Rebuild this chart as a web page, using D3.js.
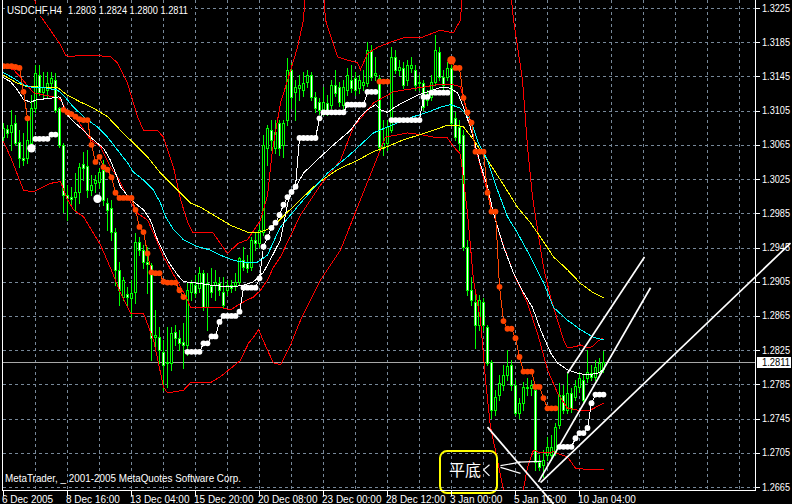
<!DOCTYPE html>
<html><head><meta charset="utf-8">
<script src="https://cdn.jsdelivr.net/npm/d3@7"></script>
<style>
html,body{margin:0;padding:0;background:#000;}
svg{display:block;}
</style></head><body>
<svg id="chart" width="792" height="504"></svg>
<script>
// ---------------- DATA ----------------
const symbol = "USDCHF,H4";
const open = [
1.3074,1.3084,1.3080,1.3091,1.3068,1.3050,1.3050,1.3067,1.3108,1.3147,
1.3127,1.3129,1.3137,1.3141,1.3108,1.3065,1.3006,1.3004,1.3004,1.3010,
1.3043,1.3040,1.3012,1.3020,1.3022,1.3036,1.2997,1.2991,1.2963,1.2919,
1.2887,1.2891,1.2886,1.2893,1.2951,1.2942,1.2928,1.2925,1.2840,1.2840,
1.2823,1.2810,1.2810,1.2846,1.2839,1.2835,1.2831,1.2893,1.2901,1.2898,
1.2915,1.2875,1.2900,1.2901,1.2904,1.2893,1.2895,1.2901,1.2901,1.2905,
1.2930,1.2927,1.2922,1.2954,1.2950,1.2963,1.3061,1.3082,1.3061,1.3091,
1.3065,1.3094,1.3153,1.3127,1.3132,1.3129,1.3139,1.3147,1.3121,1.3115,
1.3106,1.3114,1.3112,1.3135,1.3133,1.3112,1.3129,1.3141,1.3143,1.3132,
1.3135,1.3137,1.3176,1.3147,1.3143,1.3061,1.3067,1.3082,1.3168,1.3153,
1.3155,1.3141,1.3155,1.3153,1.3137,1.3137,1.3118,1.3121,1.3139,1.3174,
1.3144,1.3144,1.3155,1.3096,1.3086,1.3077,1.2946,1.2895,1.2881,1.2854,
1.2881,1.2852,1.2811,1.2755,1.2773,1.2784,1.2796,1.2808,1.2784,1.2752,
1.2763,1.2782,1.2781,1.2778,1.2694,1.2691,1.2702,1.2702,1.2706,1.2738,
1.2773,1.2755,1.2775,1.2770,1.2782,1.2790,1.2792,1.2798,1.2794,1.2800,
1.2803];
const high = [
1.3091,1.3088,1.3106,1.3100,1.3082,1.3079,1.3094,1.3123,1.3158,1.3158,
1.3150,1.3150,1.3150,1.3149,1.3109,1.3067,1.3018,1.3016,1.3032,1.3044,
1.3057,1.3059,1.3030,1.3030,1.3038,1.3047,1.3003,1.3001,1.2968,1.2928,
1.2911,1.2899,1.2907,1.2962,1.2957,1.2948,1.2946,1.2927,1.2872,1.2852,
1.2837,1.2852,1.2852,1.2854,1.2849,1.2857,1.2904,1.2907,1.2913,1.2922,
1.2919,1.2915,1.2921,1.2919,1.2911,1.2911,1.2907,1.2907,1.2915,1.2934,
1.2946,1.2936,1.2957,1.2963,1.2971,1.3077,1.3088,1.3094,1.3094,1.3094,
1.3094,1.3167,1.3161,1.3141,1.3147,1.3150,1.3153,1.3150,1.3127,1.3120,
1.3133,1.3123,1.3141,1.3153,1.3139,1.3141,1.3155,1.3158,1.3150,1.3147,
1.3153,1.3185,1.3182,1.3168,1.3147,1.3094,1.3094,1.3179,1.3176,1.3164,
1.3162,1.3164,1.3168,1.3158,1.3147,1.3141,1.3129,1.3147,1.3194,1.3179,
1.3153,1.3162,1.3158,1.3103,1.3094,1.3082,1.2954,1.2911,1.2895,1.2890,
1.2886,1.2854,1.2813,1.2778,1.2796,1.2808,1.2825,1.2813,1.2790,1.2769,
1.2788,1.2792,1.2790,1.2784,1.2702,1.2708,1.2724,1.2726,1.2740,1.2787,
1.2784,1.2798,1.2781,1.2790,1.2800,1.2796,1.2825,1.2808,1.2813,1.2816,
1.2824];
const low = [
1.3068,1.3074,1.3059,1.3065,1.3039,1.3042,1.3044,1.3059,1.3103,1.3123,
1.3121,1.3121,1.3132,1.3103,1.3063,1.2987,1.2977,1.2995,1.2989,1.2997,
1.3024,1.3004,1.3006,1.3010,1.3015,1.2995,1.2966,1.2954,1.2901,1.2878,
1.2884,1.2878,1.2864,1.2880,1.2936,1.2921,1.2892,1.2813,1.2829,1.2810,
1.2778,1.2782,1.2802,1.2831,1.2825,1.2804,1.2819,1.2884,1.2887,1.2893,
1.2872,1.2849,1.2887,1.2884,1.2890,1.2875,1.2890,1.2893,1.2895,1.2901,
1.2919,1.2916,1.2919,1.2942,1.2946,1.2960,1.3042,1.3059,1.3056,1.3053,
1.3051,1.3088,1.3108,1.3094,1.3118,1.3122,1.3133,1.3118,1.3103,1.3101,
1.3100,1.3100,1.3108,1.3122,1.3110,1.3107,1.3123,1.3127,1.3123,1.3126,
1.3129,1.3134,1.3141,1.3141,1.3059,1.3053,1.3059,1.3080,1.3149,1.3147,
1.3132,1.3135,1.3150,1.3129,1.3129,1.3106,1.3112,1.3118,1.3135,1.3141,
1.3129,1.3141,1.3088,1.3071,1.3059,1.2942,1.2890,1.2878,1.2828,1.2849,
1.2849,1.2808,1.2746,1.2749,1.2767,1.2778,1.2790,1.2778,1.2749,1.2746,
1.2755,1.2773,1.2773,1.2685,1.2685,1.2677,1.2697,1.2697,1.2702,1.2734,
1.2752,1.2752,1.2753,1.2767,1.2776,1.2764,1.2788,1.2790,1.2790,1.2796,
1.2800];
const close = [
1.3085,1.3079,1.3088,1.3067,1.3050,1.3047,1.3071,1.3108,1.3149,1.3127,
1.3133,1.3137,1.3143,1.3106,1.3065,1.3006,1.3003,1.3002,1.3010,1.3039,
1.3038,1.3012,1.3018,1.3024,1.3033,1.3001,1.2989,1.2963,1.2919,1.2895,
1.2907,1.2887,1.2892,1.2951,1.2942,1.2928,1.2926,1.2839,1.2843,1.2825,
1.2808,1.2811,1.2845,1.2839,1.2833,1.2831,1.2895,1.2904,1.2892,1.2915,
1.2875,1.2904,1.2893,1.2905,1.2895,1.2878,1.2901,1.2898,1.2905,1.2933,
1.2922,1.2921,1.2954,1.2950,1.2966,1.3065,1.3085,1.3071,1.3080,1.3061,
1.3091,1.3153,1.3121,1.3133,1.3135,1.3137,1.3147,1.3121,1.3108,1.3106,
1.3115,1.3103,1.3135,1.3126,1.3115,1.3133,1.3147,1.3132,1.3129,1.3141,
1.3139,1.3176,1.3144,1.3149,1.3063,1.3067,1.3086,1.3168,1.3153,1.3156,
1.3135,1.3158,1.3158,1.3135,1.3139,1.3109,1.3123,1.3139,1.3176,1.3144,
1.3135,1.3155,1.3091,1.3074,1.3067,1.2946,1.2895,1.2884,1.2854,1.2884,
1.2854,1.2810,1.2755,1.2770,1.2787,1.2796,1.2806,1.2784,1.2752,1.2763,
1.2782,1.2781,1.2784,1.2694,1.2688,1.2697,1.2712,1.2712,1.2735,1.2773,
1.2755,1.2775,1.2757,1.2783,1.2792,1.2767,1.2800,1.2794,1.2805,1.2810,
1.2811];

const priceTicks = ["1.3225","1.3185","1.3145","1.3105","1.3065","1.3025","1.2985","1.2945",
                    "1.2905","1.2865","1.2825","1.2785","1.2745","1.2705","1.2665"];
const dateTickBars = [0,16,32,48,64,80,96,112,128,144];
const dateTickLabels = ["6 Dec 2005","8 Dec 16:00","13 Dec 04:00","15 Dec 20:00","20 Dec 08:00",
                        "23 Dec 00:00","28 Dec 12:00","3 Jan 00:00","5 Jan 16:00","10 Jan 04:00"];

// moving averages: [bar, price]
const maWhite = [[-0.25,1.3144],[1.75,1.3139],[3.5,1.3129],[5,1.3118],[6.75,1.3115],[8.5,1.3118],[11,1.3119],[13.75,1.3121],[14.25,1.3120],[15.5,1.3103],[16.75,1.3096],[18.5,1.3088],[20,1.3082],[21.75,1.3074],[23.5,1.3067],[25,1.3061],[26.75,1.3047],[28,1.3032],[29.25,1.3016],[31.75,1.3001],[35,1.2989],[36.75,1.2977],[38.5,1.2954],[41,1.2930],[43.5,1.2913],[45,1.2905],[47.5,1.2904],[51.75,1.2901],[56,1.2899],[57.5,1.2899],[60,1.2901],[62.5,1.2905],[65,1.2916],[67.5,1.2938],[69.25,1.2954],[71.25,1.3001],[75,1.3032],[79.25,1.3051],[82.5,1.3065],[86.75,1.3082],[89.25,1.3098],[91,1.3106],[93,1.3112],[94.25,1.3106],[96,1.3103],[97.5,1.3108],[100,1.3115],[103.5,1.3123],[106,1.3127],[109.25,1.3132],[111.25,1.3132],[113.5,1.3126],[115,1.3109],[116.75,1.3085],[119.25,1.3042],[121,1.3016],[122.5,1.2985],[125,1.2946],[127.5,1.2915],[130,1.2892],[132.25,1.2875],[134.25,1.2849],[136.75,1.2822],[138.5,1.2810],[141,1.2802],[143.5,1.2798],[146.25,1.2796],[148.5,1.2798],[150,1.2802]];
const maCyan = [[-0.25,1.3150],[2.5,1.3143],[5,1.3135],[7.5,1.3132],[10,1.3132],[13.5,1.3129],[15,1.3123],[17.5,1.3109],[21,1.3094],[23.5,1.3086],[26,1.3074],[28.5,1.3059],[31,1.3044],[32.5,1.3033],[35,1.3024],[37.5,1.3012],[39.25,1.2997],[40.5,1.2981],[42.5,1.2966],[45,1.2954],[48.5,1.2946],[51.75,1.2942],[54.25,1.2936],[57.5,1.2930],[61,1.2927],[63.5,1.2928],[66,1.2936],[68.5,1.2962],[69.25,1.2969],[75,1.3001],[81,1.3032],[86,1.3051],[89.25,1.3065],[92.5,1.3079],[96,1.3086],[99.25,1.3092],[102.5,1.3098],[106,1.3103],[109.25,1.3109],[111.75,1.3112],[114.25,1.3108],[116.75,1.3094],[118.75,1.3067],[121,1.3047],[123.5,1.3012],[126,1.2981],[128.5,1.2962],[131.75,1.2934],[135,1.2904],[137.5,1.2875],[141,1.2860],[144.25,1.2849],[147.5,1.2840],[150,1.2837]];
const maYellow = [[-0.25,1.3147],[3.5,1.3137],[6,1.3133],[13.5,1.3132],[16,1.3123],[19.25,1.3115],[22.5,1.3108],[26,1.3098],[29.25,1.3082],[32.5,1.3067],[36,1.3051],[39.25,1.3032],[43.5,1.3012],[46.75,1.2997],[49.25,1.2992],[52.5,1.2983],[56.75,1.2971],[61,1.2963],[63.5,1.2962],[66,1.2966],[68.5,1.2975],[74.25,1.3001],[78.5,1.3020],[83.5,1.3036],[88.5,1.3047],[92.5,1.3057],[96,1.3063],[100,1.3071],[104.25,1.3077],[107.5,1.3082],[111,1.3088],[113.5,1.3088],[115,1.3086],[117.5,1.3071],[121,1.3047],[124.25,1.3024],[128.5,1.2992],[131.75,1.2974],[134.25,1.2957],[137.5,1.2934],[141,1.2919],[144.25,1.2903],[147.5,1.2892],[150,1.2886]];

// Bollinger bands: [bar, price]
const bbUpper = [[5.5,1.3270],[8.75,1.3219],[11.75,1.3199],[14.25,1.3182],[15.5,1.3170],[16.75,1.3168],[19.25,1.3170],[24.25,1.3169],[26.75,1.3168],[28.5,1.3161],[31,1.3137],[33.5,1.3098],[35,1.3082],[38.5,1.3082],[40,1.3074],[42.5,1.3039],[44.25,1.3001],[46,1.2975],[47.25,1.2963],[52.25,1.2963],[56,1.2938],[58.75,1.2950],[61,1.2954],[64.25,1.2977],[66,1.3006],[67.25,1.3059],[69.25,1.3114],[71.25,1.3144],[73.5,1.3179],[75,1.3211],[76,1.3281],[79.5,1.3281],[80.5,1.3211],[83.5,1.3168],[86,1.3164],[88.5,1.3161],[89.25,1.3153],[91,1.3172],[93.5,1.3179],[96.75,1.3185],[100,1.3190],[104.25,1.3190],[107.5,1.3196],[109.25,1.3199],[112.5,1.3196],[114.25,1.3211],[115.25,1.3281],[126,1.3281],[127.5,1.3211],[129.75,1.3141],[131,1.3063],[132.25,1.3004],[133.5,1.2966],[135,1.2922],[136.75,1.2887],[138.5,1.2860],[140,1.2837],[141,1.2828],[143,1.2829],[144.25,1.2831],[146,1.2828],[147.25,1.2829],[148.5,1.2835],[149.75,1.2839]];
const bbMiddle = [[-0.25,1.3156],[2.5,1.3153],[4.25,1.3144],[7.5,1.3126],[13.5,1.3120],[14.25,1.3118],[16,1.3103],[18.5,1.3094],[21.75,1.3071],[24.25,1.3063],[26.75,1.3039],[28.5,1.3027],[31,1.3004],[33.5,1.2985],[36,1.2977],[37.5,1.2962],[40,1.2934],[44.25,1.2899],[46,1.2884],[46.75,1.2875],[51.75,1.2875],[54.25,1.2875],[56.75,1.2872],[58.75,1.2878],[61,1.2884],[62.5,1.2887],[64.25,1.2895],[66,1.2907],[67.5,1.2922],[69.25,1.2934],[74.25,1.2983],[79.25,1.3018],[84.25,1.3047],[87.5,1.3086],[92.5,1.3114],[97.5,1.3127],[100,1.3129],[104.25,1.3132],[109.25,1.3136],[111.75,1.3136],[114.25,1.3133],[116.75,1.3086],[119.25,1.3039],[121.75,1.2997],[124.25,1.2957],[127.5,1.2915],[131,1.2880],[133.5,1.2845],[136,1.2802],[138.5,1.2775],[141,1.2757],[143.5,1.2755],[146.75,1.2755],[149.25,1.2761],[150,1.2763]];
const bbLower = [[-0.25,1.3071],[1.75,1.3051],[5,1.3012],[7.5,1.3010],[11.75,1.3020],[14.25,1.3022],[16,1.3001],[17.5,1.2989],[20,1.2981],[24.25,1.2948],[26.75,1.2921],[29.25,1.2892],[31.75,1.2868],[35,1.2868],[37.5,1.2837],[40,1.2782],[41,1.2775],[45,1.2778],[46.75,1.2787],[51.75,1.2787],[54.25,1.2794],[59.25,1.2813],[61.25,1.2833],[62.5,1.2840],[63.75,1.2849],[66,1.2825],[67.5,1.2810],[69.25,1.2808],[71.75,1.2831],[74.25,1.2860],[79.25,1.2907],[84.25,1.2942],[89.25,1.3001],[95.5,1.3074],[101,1.3079],[104.25,1.3077],[107.5,1.3074],[111,1.3073],[112.5,1.3063],[114.25,1.3054],[116,1.2985],[117.5,1.2907],[119.25,1.2860],[120.5,1.2790],[121.75,1.2735],[123.25,1.2702],[125,1.2661],[126.25,1.2626],[129.25,1.2644],[131,1.2688],[132.5,1.2708],[134.25,1.2705],[137.5,1.2706],[141,1.2700],[143,1.2687],[146.75,1.2685],[150,1.2685]];

// trailing stop dots: segment start bars + values
const stopDownStart = [0, 15, 94, 112];
const stopDownValues = [
 [1.3157,1.3157,1.3157,1.3156,1.3155,1.3127,1.3096],
 [1.3106,1.3103,1.3101,1.3098,1.3095,1.3094,1.3094,1.3065,1.3045,1.3051,1.3039,1.3036,1.3027,1.3009,1.3003,1.3003,1.3003,1.3003,1.2989,1.2969,1.2963,1.2938,1.2916,1.2915,1.2915,1.2905,1.2904,1.2904,1.2904,1.2895,1.2887],
 [1.3139,1.3139,1.3139],
 [1.3164,1.3155,1.3155,1.3120,1.3103,1.3091,1.3057,1.3057,1.3057,1.3009,1.2987,1.2987,1.2899,1.2859,1.2850,1.2850,1.2839,1.2817,1.2800,1.2800,1.2800,1.2782,1.2782,1.2769,1.2757,1.2757,1.2757]
];
const stopUpStart = [8, 46, 97, 139];
const stopUpValues = [
 [1.3072,1.3072,1.3072,1.3072,1.3077,1.3077],
 [1.2823,1.2823,1.2823,1.2823,1.2833,1.2833,1.2841,1.2841,1.2858,1.2865,1.2865,1.2865,1.2865,1.2870,1.2898,1.2898,1.2898,1.2898,1.2909,1.2946,1.2957,1.2968,1.2974,1.2983,1.2995,1.3004,1.3010,1.3016,1.3073,1.3073,1.3073,1.3073,1.3073,1.3096,1.3103,1.3103,1.3103,1.3103,1.3103,1.3103,1.3112,1.3112,1.3112,1.3112,1.3112,1.3127,1.3127,1.3127],
 [1.3094,1.3094,1.3094,1.3094,1.3094,1.3094,1.3094,1.3094,1.3121,1.3121,1.3126,1.3126,1.3126,1.3126,1.3126],
 [1.2712,1.2712,1.2712,1.2712,1.2722,1.2728,1.2728,1.2734,1.2763,1.2773,1.2773,1.2773]
];
const signalBars = [7, 23.5, 112];
const signalPrices = [1.3061, 1.3002, 1.3164];
const signalKinds = ["up", "up", "down"];

// hand-drawn trend lines: [[bar, price],[bar, price]]
const trendLines = [
 [[121,1.2735],[137.5,1.2645]],
 [[141,1.2798],[160.25,1.2934]],
 [[133.75,1.2671],[161.75,1.2898]],
 [[134.25,1.2670],[196.75,1.2950]]
];
const noteText = "平底";
const noteBoxBars = [109.25, 123.5];
const noteBoxPrices = [1.2707, 1.2658];
const noteTextAt = [111.5, 1.2678];
const arrowLines = [
 [[120,1.2685],[121.5,1.2691]],
 [[120,1.2685],[121.5,1.2678]],
 [[124.25,1.2690],[129.25,1.2694]],
 [[124.25,1.2688],[129.25,1.2681]],
 [[128.5,1.2694],[134.5,1.2695]]
];
const copyright = "MetaTrader, _ 2001-2005 MetaQuotes Software Corp.";

// ---------------- DRAW ----------------
const W = 792, H = 504;
const FONT = "'Liberation Sans', Arial, sans-serif";
const svg = d3.select("#chart");
svg.append("rect").attr("width", W).attr("height", H).attr("fill", "#000");

const x = d3.scaleLinear().domain([0, 188.25]).range([3, 756]);
const y = d3.scaleLinear().domain([1.2665, 1.3225]).range([487, 8]);
const line = d3.line().x(d => x(d[0]) + 0.5).y(d => y(d[1]));

svg.append("defs").append("clipPath").attr("id", "clip")
  .append("rect").attr("x", 3).attr("y", 0).attr("width", 752).attr("height", 490);

// grid
const grid = svg.append("g").attr("stroke", "#778899").attr("stroke-width", 1)
  .attr("stroke-dasharray", "3,3").attr("shape-rendering", "crispEdges");
grid.selectAll("line.h").data(priceTicks).join("line")
  .attr("x1", 3).attr("x2", 755)
  .attr("y1", d => Math.round(y(+d)) + 0.5).attr("y2", d => Math.round(y(+d)) + 0.5);
grid.selectAll("line.v").data(d3.range(8, 189, 8)).join("line")
  .attr("x1", d => Math.round(x(d)) + 0.5).attr("x2", d => Math.round(x(d)) + 0.5)
  .attr("y1", 0).attr("y2", 490);

// bid line
const lastClose = close[close.length - 1];
svg.append("line").attr("x1", 3).attr("x2", 755)
  .attr("y1", Math.round(y(lastClose)) + 0.5).attr("y2", Math.round(y(lastClose)) + 0.5)
  .attr("stroke", "#a8a8a8").attr("shape-rendering", "crispEdges");

const plot = svg.append("g").attr("clip-path", "url(#clip)");

// candles
const idx = d3.range(close.length);
const top_ = i => Math.round(y(Math.max(open[i], close[i])));
const bot_ = i => Math.round(y(Math.min(open[i], close[i])));
const cg = plot.append("g").attr("shape-rendering", "crispEdges");
cg.selectAll("rect.w").data(idx).join("rect")
  .attr("x", i => Math.round(x(i))).attr("width", 1)
  .attr("y", i => Math.round(y(high[i])))
  .attr("height", i => Math.max(1, Math.round(y(low[i])) - Math.round(y(high[i])) + 1))
  .attr("fill", "#00ff00");
cg.selectAll("rect.b").data(idx).join("rect")
  .attr("x", i => Math.round(x(i)) - 1).attr("width", 3)
  .attr("y", top_).attr("height", i => Math.max(1, bot_(i) - top_(i) + 1))
  .attr("fill", "#00ff00");
cg.selectAll("rect.f").data(idx.filter(i => bot_(i) - top_(i) >= 2)).join("rect")
  .attr("x", i => Math.round(x(i))).attr("width", 1)
  .attr("y", i => top_(i) + 1).attr("height", i => bot_(i) - top_(i) - 1)
  .attr("fill", i => close[i] < open[i] ? "#ffffff" : "#000000");

const crisp = "crispEdges";
// bollinger
[bbUpper, bbMiddle, bbLower].forEach(s => {
  plot.append("path").datum(s).attr("d", line).attr("fill", "none")
    .attr("stroke", "#ff0000").attr("stroke-width", 1).attr("shape-rendering", crisp);
});
// moving averages
[[maYellow, "#ffff00"], [maCyan, "#00ffff"], [maWhite, "#ffffff"]].forEach(([s, c]) => {
  plot.append("path").datum(s).attr("d", line).attr("fill", "none")
    .attr("stroke", c).attr("stroke-width", 1).attr("shape-rendering", crisp);
});

// trailing stop
function drawStops(starts, values, color) {
  starts.forEach((s, k) => {
    const pts = values[k].map((v, j) => [s + j, v]);
    plot.append("path").datum(pts).attr("d", line).attr("fill", "none")
      .attr("stroke", color).attr("stroke-width", 1).attr("shape-rendering", crisp);
    plot.append("g").selectAll("circle").data(pts).join("circle")
      .attr("cx", d => x(d[0]) + 0.5).attr("cy", d => y(d[1]))
      .attr("r", 2.9).attr("fill", color);
  });
}
drawStops(stopDownStart, stopDownValues, "#ff4500");
drawStops(stopUpStart, stopUpValues, "#ffffff");
plot.append("g").selectAll("circle").data(signalBars).join("circle")
  .attr("cx", (d) => x(d) + 0.5).attr("cy", (d, k) => y(signalPrices[k]))
  .attr("r", 4.2).attr("fill", (d, k) => signalKinds[k] === "up" ? "#ffffff" : "#ff4500");

// trend lines (not clipped)
svg.append("g").selectAll("path").data(trendLines).join("path")
  .attr("d", line).attr("stroke", "#ffffff").attr("stroke-width", 1.7).attr("fill", "none");

// annotation
svg.append("rect")
  .attr("x", x(noteBoxBars[0])).attr("y", y(noteBoxPrices[0]))
  .attr("width", x(noteBoxBars[1]) - x(noteBoxBars[0]))
  .attr("height", y(noteBoxPrices[1]) - y(noteBoxPrices[0]))
  .attr("rx", 7).attr("fill", "none").attr("stroke", "#ffff00").attr("stroke-width", 2);
svg.append("text").attr("x", x(noteTextAt[0])).attr("y", y(noteTextAt[1]))
  .attr("fill", "#ffffff").attr("font-family", "'Noto Sans CJK SC', sans-serif")
  .attr("font-size", 16).text(noteText);
svg.append("g").selectAll("path").data(arrowLines).join("path")
  .attr("d", line).attr("stroke", "#ffffff").attr("stroke-width", 1.2).attr("fill", "none");

// frame
const fr = svg.append("g").attr("stroke", "#ffffff").attr("shape-rendering", "crispEdges");
fr.append("line").attr("x1", 2.5).attr("x2", 2.5).attr("y1", 0).attr("y2", 491);
fr.append("line").attr("x1", 2).attr("x2", 756).attr("y1", 490.5).attr("y2", 490.5);
fr.append("line").attr("x1", 755.5).attr("x2", 755.5).attr("y1", 0).attr("y2", 491);

// price axis
const pa = svg.append("g");
pa.selectAll("line").data(priceTicks).join("line")
  .attr("x1", 756).attr("x2", 760)
  .attr("y1", d => Math.round(y(+d)) + 0.5).attr("y2", d => Math.round(y(+d)) + 0.5)
  .attr("stroke", "#fff").attr("shape-rendering", "crispEdges");
pa.selectAll("text").data(priceTicks).join("text")
  .attr("x", 762).attr("y", d => y(+d) + 3.5)
  .attr("fill", "#fff").attr("font-family", FONT).attr("font-size", 10)
  .attr("textLength", 28).attr("lengthAdjust", "spacingAndGlyphs").text(d => d);
const by = Math.round(y(lastClose));
svg.append("rect").attr("x", 757).attr("y", by - 5).attr("width", 34).attr("height", 11).attr("fill", "#fff");
svg.append("text").attr("x", 762).attr("y", by + 4).attr("fill", "#000")
  .attr("font-family", FONT).attr("font-size", 10)
  .attr("textLength", 28).attr("lengthAdjust", "spacingAndGlyphs").text(lastClose.toFixed(4));

// date axis
const da = svg.append("g");
da.selectAll("line").data(dateTickBars).join("line")
  .attr("x1", d => Math.round(x(d)) + 0.5).attr("x2", d => Math.round(x(d)) + 0.5)
  .attr("y1", 491).attr("y2", 496).attr("stroke", "#fff").attr("shape-rendering", "crispEdges");
da.selectAll("text").data(dateTickBars).join("text")
  .attr("x", d => Math.round(x(d)) - 1).attr("y", 503)
  .attr("fill", "#fff").attr("font-family", FONT).attr("font-size", 10)
  .text((d, k) => dateTickLabels[k]);

// title
const n = close.length - 1;
const titleBg = svg.append("rect").attr("fill", "#000");
const t1 = svg.append("text").attr("x", 7).attr("y", 14).attr("fill", "#fff")
  .attr("font-family", FONT).attr("font-size", 11)
  .attr("textLength", 55).attr("lengthAdjust", "spacingAndGlyphs").text(symbol);
const t2 = svg.append("text").attr("x", 68).attr("y", 14).attr("fill", "#fff")
  .attr("font-family", FONT).attr("font-size", 11)
  .attr("textLength", 120).attr("lengthAdjust", "spacingAndGlyphs")
  .text([open[n], high[n], low[n], close[n]].map(v => v.toFixed(4)).join(" "));
titleBg.attr("x", 5).attr("y", 4).attr("width", 186).attr("height", 12);

// copyright
svg.append("text").attr("x", 5).attr("y", 482).attr("fill", "#fff")
  .attr("font-family", FONT).attr("font-size", 10.5)
  .attr("textLength", 236).attr("lengthAdjust", "spacingAndGlyphs").text(copyright);
</script>
</body></html>
